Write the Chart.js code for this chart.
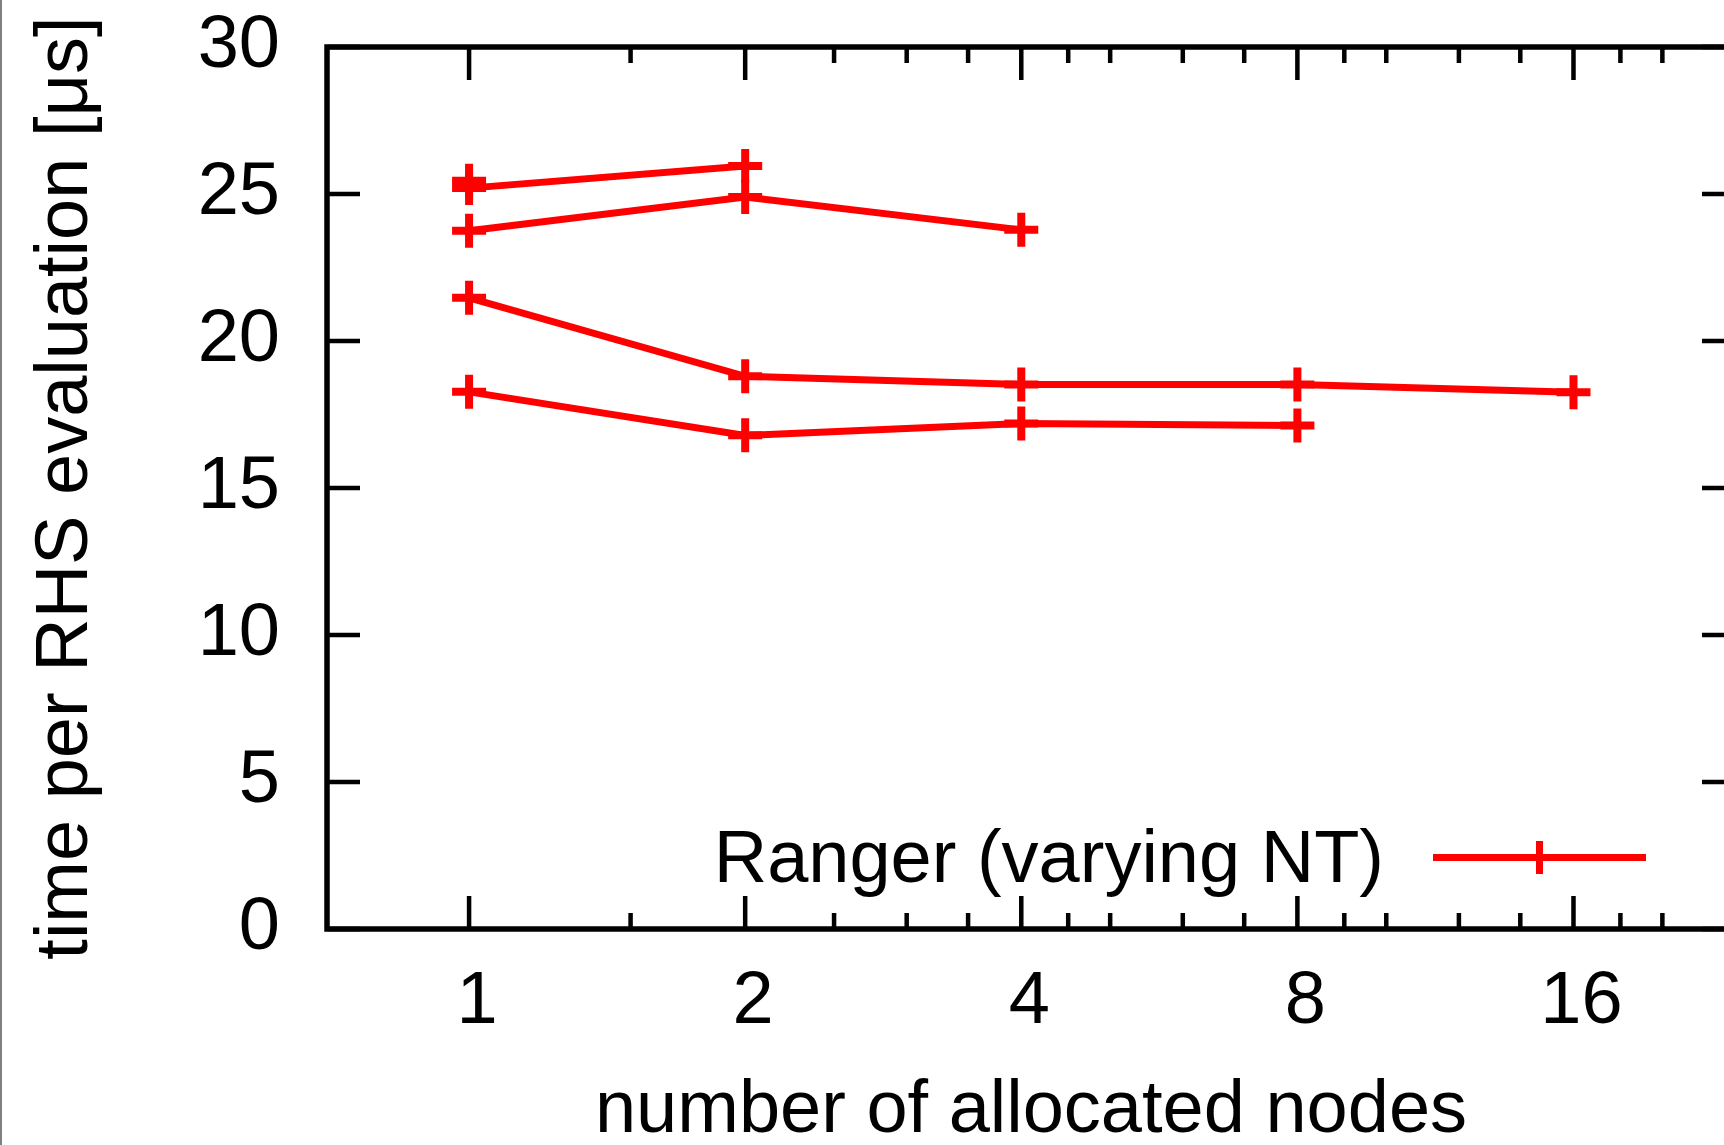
<!DOCTYPE html>
<html><head><meta charset="utf-8">
<script src="https://cdn.jsdelivr.net/npm/chart.js@4/dist/chart.umd.min.js"></script>
<style>
html,body{margin:0;padding:0;background:#fff;overflow:hidden;width:1724px;height:1145px}
#wrap{position:relative;width:1760px;height:1145px}
canvas{display:block}
</style></head><body>
<div id="wrap"><canvas id="c" width="1760" height="1145"></canvas></div>
<script>
// ---- data ----
const nodes = [1, 2, 4, 8, 16];
const seriesA = [25.2, 25.95];
const seriesB = [23.75, 24.9, 23.78];
const seriesC = [21.47, 18.8, 18.52, 18.52, 18.26];
const seriesD = [18.27, 16.79, 17.19, 17.13];
const seriesE = [25.45];
const xMajorTicks = [1, 2, 4, 8, 16];
const xMinorTicks = [1.5, 2.5, 3, 3.5, 4.5, 5, 6, 7, 9, 10, 12, 14, 18, 20];
const yTicks = [0, 5, 10, 15, 20, 25, 30];
const legendLabel = 'Ranger (varying NT)';
const xTitle = 'number of allocated nodes';
const yTitle = 'time per RHS evaluation [μs]';

const FONT = "'Liberation Sans', Arial, Helvetica, sans-serif";
const RED = '#ff0000';

function toPoints(vals) { return vals.map((v, i) => ({ x: nodes[i], y: v })); }
function mkDataset(vals, label) {
  return {
    label: label,
    data: toPoints(vals),
    borderColor: RED,
    backgroundColor: RED,
    borderWidth: 7,
    pointStyle: 'cross',
    pointRadius: 17,
    pointHoverRadius: 17,
    pointBorderWidth: 8,
    pointBorderColor: RED,
    tension: 0,
    fill: false
  };
}
function zeroPad(s) { s.paddingTop = 0; s.paddingBottom = 0; s.paddingLeft = 0; s.paddingRight = 0; }

const framePlugin = {
  id: 'frameTicks',
  afterDraw(chart) {
    const { ctx, chartArea: { left, right, top, bottom }, scales: { x, y } } = chart;
    ctx.save();
    ctx.strokeStyle = '#000';
    ctx.lineWidth = 4.5;
    ctx.beginPath();
    xMajorTicks.forEach(v => {
      const px = x.getPixelForValue(v);
      ctx.moveTo(px, bottom); ctx.lineTo(px, bottom - 33);
      ctx.moveTo(px, top); ctx.lineTo(px, top + 33);
    });
    xMinorTicks.forEach(v => {
      const px = x.getPixelForValue(v);
      ctx.moveTo(px, bottom); ctx.lineTo(px, bottom - 16);
      ctx.moveTo(px, top); ctx.lineTo(px, top + 16);
    });
    yTicks.forEach(v => {
      const py = y.getPixelForValue(v);
      ctx.moveTo(left, py); ctx.lineTo(left + 33, py);
      ctx.moveTo(right, py); ctx.lineTo(right - 33, py);
    });
    ctx.stroke();
    ctx.lineWidth = 5.5;
    ctx.strokeRect(left, top, right - left, bottom - top);
    ctx.fillStyle = '#808080';
    ctx.fillRect(0, 0, 2, chart.height);
    ctx.restore();
  }
};

const legendPlugin = {
  id: 'insideLegend',
  afterDraw(chart) {
    const { ctx, chartArea } = chart;
    const ds = chart.data.datasets[0];
    const lineRight = chartArea.right - 89;
    const lineLeft = lineRight - 213;
    const yy = chartArea.bottom - 71.5;
    ctx.save();
    ctx.strokeStyle = ds.borderColor;
    ctx.lineWidth = ds.borderWidth;
    ctx.beginPath(); ctx.moveTo(lineLeft, yy); ctx.lineTo(lineRight, yy); ctx.stroke();
    ctx.lineWidth = 7;
    Chart.helpers.drawPoint(ctx, { pointStyle: 'cross', radius: 16.5, borderWidth: 7, rotation: 0 }, (lineLeft + lineRight) / 2, yy);
    ctx.font = '74px ' + FONT;
    ctx.textAlign = 'right';
    ctx.textBaseline = 'alphabetic';
    ctx.fillStyle = '#000';
    ctx.fillText(ds.label, lineLeft - 49, chartArea.bottom - 47);
    ctx.restore();
  }
};

new Chart(document.getElementById('c'), {
  type: 'line',
  data: {
    datasets: [
      mkDataset(seriesA, legendLabel),
      mkDataset(seriesB, legendLabel),
      mkDataset(seriesC, legendLabel),
      mkDataset(seriesD, legendLabel),
      mkDataset(seriesE, legendLabel)
    ]
  },
  options: {
    responsive: false,
    animation: false,
    devicePixelRatio: 1,
    layout: { padding: { top: 47, right: 21, left: 0, bottom: 0 } },
    plugins: { legend: { display: false }, tooltip: { enabled: false } },
    scales: {
      x: {
        type: 'logarithmic',
        min: 0.7,
        max: 24,
        afterBuildTicks: s => { s.ticks = xMajorTicks.concat(xMinorTicks).sort((a, b) => a - b).map(v => ({ value: v })); },
        afterFit: s => { s.height = 216; zeroPad(s); },
        grid: { display: false, drawTicks: false },
        border: { display: false },
        ticks: {
          autoSkip: false, maxRotation: 0, minRotation: 0, padding: 29, labelOffset: 8,
          color: '#000', font: { family: FONT, size: 74 },
          callback: v => xMajorTicks.includes(v) ? String(v) : ''
        },
        title: {
          display: true, text: xTitle, color: '#000',
          font: { family: FONT, size: 74, lineHeight: 0.9 },
          padding: { top: 0, bottom: 0 }
        }
      },
      y: {
        type: 'linear',
        min: 0,
        max: 30,
        afterBuildTicks: s => { s.ticks = yTicks.map(v => ({ value: v })); },
        afterFit: s => { s.width = 327; zeroPad(s); },
        grid: { display: false, drawTicks: false },
        border: { display: false },
        ticks: {
          padding: 47, color: '#000', font: { family: FONT, size: 74 },
          callback: v => String(v)
        },
        title: {
          display: true, text: yTitle, color: '#000',
          font: { family: FONT, size: 74, lineHeight: 0.9 },
          padding: { top: 33, bottom: 0 }
        }
      }
    }
  },
  plugins: [framePlugin, legendPlugin]
});
</script>
</body></html>
